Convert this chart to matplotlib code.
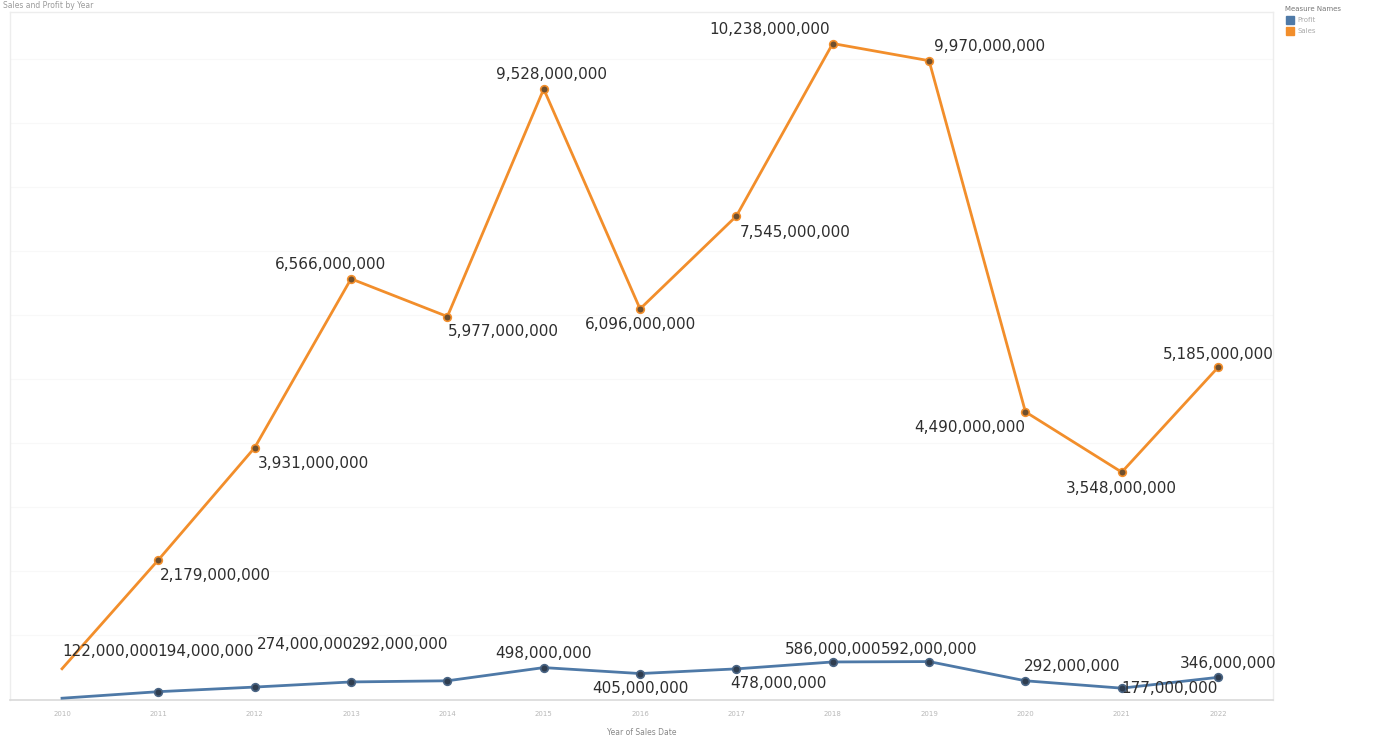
import matplotlib.pyplot as plt
from matplotlib.patches import Rectangle
from matplotlib.ticker import MultipleLocator

years = [2010, 2011, 2012, 2013, 2014, 2015, 2016, 2017, 2018, 2019, 2020, 2021, 2022]
sales = [480e6, 2179e6, 3931e6, 6566e6, 5977e6, 9528e6, 6096e6, 7545e6,
         10238e6, 9970e6, 4490e6, 3548e6, 5185e6]
profit = [20e6, 122e6, 194e6, 274e6, 292e6, 498e6, 405e6, 478e6,
          586e6, 592e6, 292e6, 177e6, 346e6]

# label offsets in pixels (dx, dy); None = no label
sales_off = [None, (57, -16), (59, -16), (-21, 14), (56, -15), (8, 15), (0, -16),
             (59, -16), (-63, 14), (60, 14), (-56, -16), (0, -16), (0, 13)]
profit_off = [None, (-48, 40), (-49, 36), (-46, 37), (-47, 36), (0, 14), (0, -15),
              (42, -15), (0, 12), (0, 12), (47, 14), (48, 0), (10, 14)]

sales_c = "#f28e2b"
profit_c = "#4e79a7"

fig = plt.figure(figsize=(13.73, 7.38), dpi=100)
ax = fig.add_axes([10/1373, 1-699.5/738, 1263/1373, 687.5/738])

ax.plot(years, sales, color=sales_c, lw=2, zorder=3)
ax.plot(years[1:], sales[1:], ls="none", marker="o", ms=5.5, mfc="#6e4f2e",
        mec=sales_c, mew=1.2, zorder=4)
ax.plot(years, profit, color=profit_c, lw=2, zorder=3)
ax.plot(years[1:], profit[1:], ls="none", marker="o", ms=5.5, mfc="#2f3d4f",
        mec="#4a6585", mew=1.2, zorder=4)

for vals, offs in [(sales, sales_off), (profit, profit_off)]:
    for x, v, o in zip(years, vals, offs):
        if o is None:
            continue
        ax.annotate(f"{v:,.0f}", (x, v), xytext=o, textcoords="offset pixels",
                    ha="center", va="center", fontsize=11, color="#2e2e2e",
                    zorder=5)

ax.set_xlim(2010 - 0.54, 2022 + 0.57)
ax.set_ylim(0, 10.73e9)
ax.set_xticks(years)
ax.set_xticklabels([str(y) for y in years], fontsize=5, color="#b8b8b8")
ax.tick_params(axis="x", length=0, pad=8)
ax.yaxis.set_major_locator(MultipleLocator(1e9))
ax.tick_params(axis="y", length=0, labelleft=False)
ax.grid(axis="y", color="#f8f8f8", lw=0.8)
ax.set_axisbelow(True)
ax.set_xlabel("Year of Sales Date", fontsize=5.5, color="#888888", labelpad=8)

for s in ["left", "top", "right"]:
    ax.spines[s].set_color("#ededed")
    ax.spines[s].set_linewidth(1)
ax.spines["bottom"].set_color("#d9d9d9")
ax.spines["bottom"].set_linewidth(1.2)

# sheet title
fig.text(0.002, 1 - 5/738, "Sales and Profit by Year", fontsize=5.5,
         color="#9a9a9a", ha="left", va="center")

# legend
fig.text(1285/1373, 1 - 9/738, "Measure Names", fontsize=5, color="#777777",
         ha="left", va="center")
for i, (name, c) in enumerate([("Profit", profit_c), ("Sales", sales_c)]):
    yc = 1 - (20 + 11*i)/738
    fig.patches.append(Rectangle((1286/1373, yc - 4/738), 8/1373, 8/738,
                                 transform=fig.transFigure, color=c))
    fig.text(1297/1373, yc, name, fontsize=5, color="#aaaaaa",
             ha="left", va="center")

plt.savefig("out.png", dpi=100)
